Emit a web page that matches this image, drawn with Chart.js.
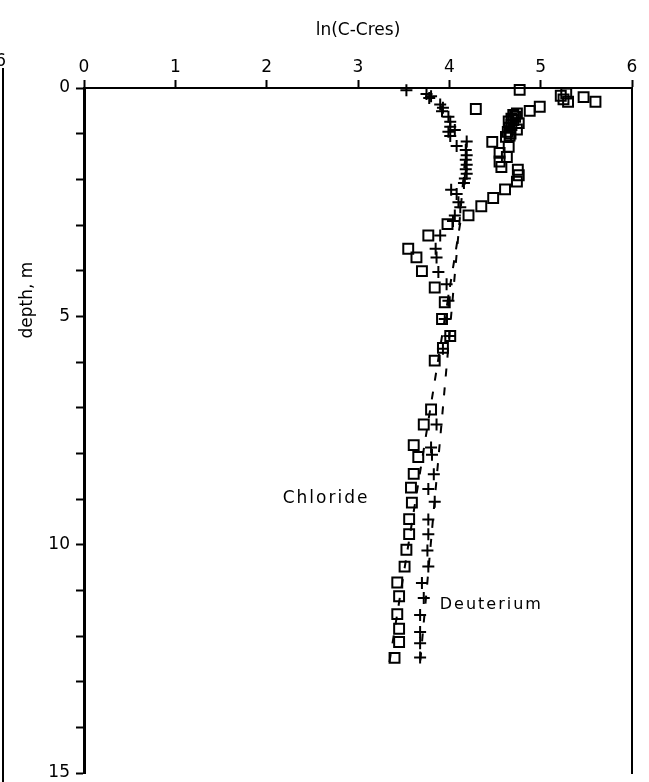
<!DOCTYPE html>
<html>
<head>
<meta charset="utf-8">
<script src="https://cdn.jsdelivr.net/npm/chart.js@4.4.1/dist/chart.umd.min.js"></script>
<style>
  html, body { margin: 0; padding: 0; background: #fff; }
  #wrap { width: 649px; height: 782px; position: relative; }
</style>
</head>
<body>
<div id="wrap"><canvas id="c" width="649" height="782"></canvas></div>
<script>
// ---- data ----
const xTickLabels = ['0', '1', '2', '3', '4', '5', '6'];
const yTickLabels = { 0: '0', 5: '5', 10: '10', 15: '15' };

const chlorideDepth = [0.04,0.12,0.17,0.20,0.25,0.30,0.30,0.41,0.46,0.50,0.56,0.59,0.63,0.67,0.70,0.73,0.77,0.81,0.87,0.91,0.96,1.00,1.04,1.07,1.18,1.29,1.42,1.51,1.61,1.73,1.79,1.91,2.05,2.22,2.41,2.59,2.79,2.98,3.23,3.52,3.71,4.01,4.37,4.69,5.06,5.43,5.69,5.97,7.04,7.37,7.82,8.08,8.45,8.75,9.08,9.44,9.77,10.11,10.48,10.83,11.13,11.52,11.84,12.13,12.48];
const chlorideLnC   = [4.77,5.28,5.22,5.47,5.25,5.30,5.60,4.99,4.29,4.88,4.74,4.70,4.72,4.68,4.70,4.65,4.76,4.68,4.66,4.74,4.64,4.67,4.66,4.62,4.47,4.65,4.55,4.63,4.55,4.57,4.75,4.76,4.74,4.61,4.48,4.35,4.21,3.98,3.77,3.55,3.64,3.70,3.84,3.95,3.92,4.01,3.93,3.84,3.80,3.72,3.61,3.66,3.61,3.58,3.59,3.56,3.56,3.53,3.51,3.43,3.45,3.43,3.45,3.45,3.40];

const deuteriumDepth = [0.05,0.13,0.18,0.22,0.36,0.43,0.51,0.63,0.74,0.85,0.92,0.96,1.05,1.17,1.27,1.36,1.47,1.57,1.68,1.78,1.88,1.98,2.08,2.23,2.32,2.50,2.61,2.79,2.91,3.23,3.52,3.71,4.03,4.30,4.66,5.06,5.43,5.71,7.37,7.87,8.03,8.46,8.78,9.06,9.45,9.77,10.13,10.48,10.84,11.17,11.54,11.91,12.16,12.47];
const deuteriumLnC   = [3.53,3.75,3.80,3.78,3.90,3.93,3.92,3.99,4.01,4.01,4.06,3.99,4.01,4.19,4.08,4.18,4.19,4.18,4.19,4.18,4.19,4.17,4.16,4.02,4.08,4.10,4.12,4.06,4.04,3.90,3.85,3.86,3.88,3.97,3.99,3.95,4.00,3.93,3.86,3.80,3.81,3.83,3.77,3.84,3.77,3.77,3.76,3.77,3.70,3.72,3.68,3.68,3.68,3.68];

const chlorideFitDepth  = [2.95, 12.75];
const chlorideFitLnC    = [4.12, 3.33];
const deuteriumFitDepth = [1.17, 12.6];
const deuteriumFitLnC   = [4.19, 3.68];

const seriesLabels = ['Chloride', 'Deuterium'];
const labelAnchorLnC   = [2.65, 4.46];
const labelAnchorDepth = [8.99, 11.32];

// ---- build ----
const pts = (xs, ys) => ys.map((d, i) => ({ x: xs[i], y: d }));
const FONT = "'DejaVu Sans', 'Liberation Sans', Arial, sans-serif";

const extras = {
  id: 'extras',
  afterDraw(chart) {
    const ctx = chart.ctx;
    const xs = chart.scales.x, ys = chart.scales.y;
    ctx.save();
    ctx.fillStyle = '#000';
    ctx.textAlign = 'center';
    ctx.textBaseline = 'middle';
    seriesLabels.forEach((t, i) => {
      ctx.font = (i === 0 ? '17px ' : '16px ') + FONT;
      try { ctx.letterSpacing = '2px'; } catch (e) {}
      ctx.fillText(t, xs.getPixelForValue(labelAnchorLnC[i]), ys.getPixelForValue(labelAnchorDepth[i]));
    });
    try { ctx.letterSpacing = '0px'; } catch (e) {}
    // y axis title (placed above centre, as in the figure)
    ctx.save();
    ctx.translate(28, 300);
    ctx.rotate(-Math.PI / 2);
    ctx.font = '17px ' + FONT;
    ctx.textAlign = 'center';
    ctx.textBaseline = 'middle';
    ctx.fillText('depth, m', 0, 0);
    ctx.restore();
    // neighbouring panel's edge visible at the left of the scan
    ctx.strokeStyle = '#000';
    ctx.lineWidth = 2;
    ctx.beginPath();
    ctx.moveTo(3, 68);
    ctx.lineTo(3, 782);
    ctx.stroke();
    ctx.font = '17px ' + FONT;
    ctx.textAlign = 'right';
    ctx.textBaseline = 'middle';
    ctx.fillText('6', 6, 62);
    ctx.restore();
  }
};

new Chart(document.getElementById('c'), {
  type: 'scatter',
  data: {
    datasets: [
      {
        label: 'Chloride',
        data: pts(chlorideLnC, chlorideDepth),
        pointStyle: 'rect',
        pointRadius: 7,
        pointBorderWidth: 2,
        pointBorderColor: '#000',
        pointBackgroundColor: 'rgba(255,255,255,0)',
        clip: false
      },
      {
        label: 'Deuterium',
        data: pts(deuteriumLnC, deuteriumDepth),
        pointStyle: 'cross',
        pointRadius: 6,
        pointBorderWidth: 2,
        pointBorderColor: '#000',
        clip: false
      },
      {
        label: 'Chloride fit',
        data: pts(chlorideFitLnC, chlorideFitDepth),
        showLine: true,
        borderColor: '#000',
        borderWidth: 2,
        borderDash: [8, 11],
        pointRadius: 0,
        fill: false
      },
      {
        label: 'Deuterium fit',
        data: pts(deuteriumFitLnC, deuteriumFitDepth),
        showLine: true,
        borderColor: '#000',
        borderWidth: 2,
        borderDash: [8, 11],
        pointRadius: 0,
        fill: false
      }
    ]
  },
  options: {
    responsive: false,
    animation: false,
    layout: { padding: { left: 0, right: 0, top: 0, bottom: 1 } },
    plugins: { legend: { display: false }, tooltip: { enabled: false } },
    scales: {
      x: {
        type: 'linear',
        position: 'top',
        min: 0, max: 6,
        ticks: {
          stepSize: 1,
          color: '#000',
          padding: 2,
          font: { family: FONT, size: 17 },
          callback: v => xTickLabels[v] ?? ''
        },
        grid: { drawOnChartArea: false, drawTicks: true, tickLength: 8, tickColor: '#000', tickWidth: 2 },
        border: { display: true, color: '#000', width: 2 },
        title: { display: true, text: 'ln(C-Cres)', color: '#000', font: { family: FONT, size: 17 }, padding: { top: 20, bottom: 0 } },
        afterFit(s) { s.height = 88; s.paddingLeft = 0; s.paddingRight = 0; }
      },
      y: {
        type: 'linear',
        position: 'left',
        reverse: true,
        min: 0, max: 15,
        ticks: {
          stepSize: 1,
          color: '#000',
          padding: 6,
          autoSkip: false,
          font: { family: FONT, size: 17 },
          callback: v => yTickLabels[v] ?? ''
        },
        grid: { drawOnChartArea: false, drawTicks: true, tickLength: 8, tickColor: '#000', tickWidth: 2 },
        border: { display: true, color: '#000', width: 3 },
        afterFit(s) { s.width = 84; s.paddingTop = 0; s.paddingBottom = 0; }
      },
      y2: {
        type: 'linear',
        position: 'right',
        reverse: true,
        min: 0, max: 15,
        ticks: { display: false },
        grid: { drawOnChartArea: false, drawTicks: false },
        border: { display: true, color: '#000', width: 2 },
        afterFit(s) { s.width = 17; s.paddingTop = 0; s.paddingBottom = 0; }
      }
    }
  },
  plugins: [extras]
});
</script>
</body>
</html>
